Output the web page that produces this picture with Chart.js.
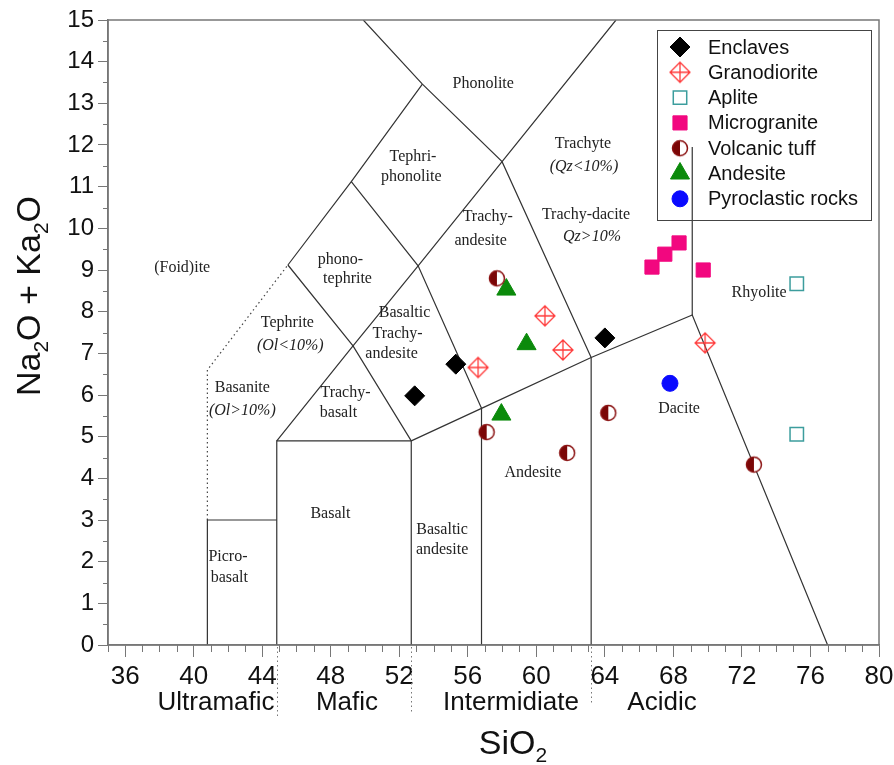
<!DOCTYPE html>
<html>
<head>
<meta charset="utf-8">
<title>TAS diagram</title>
<script src="https://cdn.jsdelivr.net/npm/chart.js@4.4.1/dist/chart.umd.min.js"></script>
<style>
  html, body { margin: 0; padding: 0; background: #fff; }
</style>
</head>
<body>
<canvas id="tasChart" width="894" height="765"></canvas>
<script>
// sample points, [SiO2, Na2O+K2O]
const enclaves = [[52.9, 5.98], [55.3, 6.74], [64.0, 7.37]];
const granodiorite = [[56.6, 6.66], [60.5, 7.9], [61.55, 7.08], [69.85, 7.25]];
const aplite = [[75.2, 8.67], [75.2, 5.06]];
const microgranite = [[66.75, 9.07], [67.5, 9.38], [68.33, 9.65], [69.74, 9.0]];
const volcanicTuff = [[57.7, 8.8], [57.1, 5.11], [61.8, 4.61], [64.2, 5.57], [72.7, 4.33]];
const andesite = [[58.25, 8.53], [59.43, 7.22], [57.96, 5.53]];
const pyroclastic = [[67.8, 6.28]];

const seriesNames = ['Enclaves', 'Granodiorite', 'Aplite', 'Microgranite', 'Volcanic tuff', 'Andesite', 'Pyroclastic rocks'];

// field boundaries of the TAS grid
const fieldLines = [
  [[40.8, 0], [40.8, 3], [44.85, 3]],
  [[44.85, 0], [44.85, 4.9], [52.7, 4.9], [52.7, 0]],
  [[52.7, 4.9], [56.8, 5.68], [63.2, 6.9], [69.1, 7.92], [77, 0]],
  [[56.8, 0], [56.8, 5.68]],
  [[63.2, 0], [63.2, 6.9]],
  [[69.1, 7.92], [69.1, 11.95]],
  [[44.85, 4.9], [49.3, 7.18], [53.1, 9.1], [58.0, 11.6], [64.65, 15]],
  [[45.5, 9.12], [49.2, 11.12], [53.35, 13.46]],
  [[49.9, 15], [53.35, 13.46], [58.0, 11.6], [63.2, 6.9]],
  [[49.2, 11.12], [53.1, 9.1], [56.8, 5.68]],
  [[45.5, 9.12], [49.3, 7.18], [52.7, 4.9]]
];
const dottedLines = [
  [[40.8, 3], [40.8, 6.6], [45.5, 9.12]]
];

const xTicks = [36, 40, 44, 48, 52, 56, 60, 64, 68, 72, 76, 80];

// rock-type names written in the fields
const fieldLabels = [
  ['Phonolite', 56.9, 13.48],
  ['Tephri-', 52.8, 11.71], ['phonolite', 52.7, 11.23],
  ['Trachyte', 62.72, 12.02], ['(Qz<10%)', 62.78, 11.47, true],
  ['Trachy-dacite', 62.9, 10.32], ['Qz>10%', 63.25, 9.79, true],
  ['Trachy-', 57.16, 10.27], ['andesite', 56.75, 9.7],
  ['phono-', 48.57, 9.24], ['tephrite', 48.98, 8.78],
  ['(Foid)ite', 39.33, 9.05],
  ['Tephrite', 45.47, 7.73], ['(Ol<10%)', 45.64, 7.18, true],
  ['Basanite', 42.84, 6.17], ['(Ol>10%)', 42.84, 5.62, true],
  ['Basaltic', 52.31, 7.97], ['Trachy-', 51.9, 7.46], ['andesite', 51.55, 6.98],
  ['Trachy-', 48.86, 6.05], ['basalt', 48.45, 5.57],
  ['Basalt', 47.98, 3.14],
  ['Picro-', 42.0, 2.11], ['basalt', 42.08, 1.61],
  ['Basaltic', 54.5, 2.76], ['andesite', 54.5, 2.28],
  ['Andesite', 59.8, 4.13],
  ['Dacite', 68.33, 5.66],
  ['Rhyolite', 73.0, 8.45]
];

const groups = [
  ['Ultramafic', 216], ['Mafic', 347], ['Intermidiate', 511], ['Acidic', 662]
];

function granoMarker() {
  const c = document.createElement('canvas');
  c.width = 24; c.height = 24;
  const g = c.getContext('2d');
  g.strokeStyle = '#ff3a3a';
  g.lineWidth = 1.3;
  g.beginPath();
  g.moveTo(12, 2); g.lineTo(22, 12); g.lineTo(12, 22); g.lineTo(2, 12); g.closePath();
  g.moveTo(12, 2); g.lineTo(12, 22);
  g.moveTo(2, 12); g.lineTo(22, 12);
  g.stroke();
  return c;
}

function tuffMarker() {
  const c = document.createElement('canvas');
  c.width = 20; c.height = 20;
  const g = c.getContext('2d');
  g.fillStyle = '#fff';
  g.beginPath(); g.arc(10, 10, 7.5, 0, Math.PI * 2); g.fill();
  g.fillStyle = '#7a0606';
  g.beginPath(); g.arc(10, 10, 7.5, Math.PI / 2, Math.PI * 1.5); g.closePath(); g.fill();
  g.strokeStyle = '#8a1010';
  g.lineWidth = 1.5;
  g.beginPath(); g.arc(10, 10, 7.5, 0, Math.PI * 2); g.stroke();
  return c;
}

const toXY = arr => arr.map(p => ({ x: p[0], y: p[1] }));

const styles = [
  { pointStyle: 'rectRot', radius: 10, bg: '#000', border: '#000', bw: 1 },
  { pointStyle: granoMarker(), radius: 10, bg: 'transparent', border: '#ff3a3a', bw: 0 },
  { pointStyle: 'rect', radius: 9.5, bg: 'rgba(255,255,255,0)', border: '#3c9d9d', bw: 1.5 },
  { pointStyle: 'rect', radius: 10, bg: '#f2077f', border: '#f2077f', bw: 1 },
  { pointStyle: tuffMarker(), radius: 8, bg: 'transparent', border: '#8a1010', bw: 0 },
  { pointStyle: 'triangle', radius: 11, bg: '#0b8a0b', border: '#0b8a0b', bw: 1 },
  { pointStyle: 'circle', radius: 8, bg: '#0a0aff', border: '#0a0aff', bw: 1 }
];
const seriesData = [enclaves, granodiorite, aplite, microgranite, volcanicTuff, andesite, pyroclastic];

const datasets = [];
fieldLines.forEach(l => datasets.push({
  data: toXY(l), showLine: true, borderColor: '#333', borderWidth: 1.2,
  pointRadius: 0, fill: false, order: 2
}));
dottedLines.forEach(l => datasets.push({
  data: toXY(l), showLine: true, borderColor: '#444', borderWidth: 1.2, borderDash: [1.5, 3],
  pointRadius: 0, fill: false, order: 2
}));
seriesData.forEach((d, i) => datasets.push({
  label: seriesNames[i], data: toXY(d),
  pointStyle: styles[i].pointStyle, pointRadius: styles[i].radius,
  backgroundColor: styles[i].bg, borderColor: styles[i].border, borderWidth: styles[i].bw,
  order: 0
}));

const decor = {
  id: 'decor',
  afterDraw(chart) {
    const { ctx, chartArea: a, scales: { x, y } } = chart;
    ctx.save();
    // frame top/right
    ctx.strokeStyle = '#777';
    ctx.lineWidth = 1.5;
    ctx.strokeRect(a.left, a.top, a.right - a.left, a.bottom - a.top);
    // minor ticks
    ctx.lineWidth = 1;
    ctx.beginPath();
    for (let v = 35; v <= 80; v++) {
      if (xTicks.includes(v)) continue;
      const px = Math.round(x.getPixelForValue(v)) + 0.5;
      ctx.moveTo(px, a.bottom); ctx.lineTo(px, a.bottom + 7);
    }
    for (let v = 0.5; v < 15; v += 1) {
      const py = Math.round(y.getPixelForValue(v)) + 0.5;
      ctx.moveTo(a.left, py); ctx.lineTo(a.left - 5, py);
    }
    ctx.stroke();

    // field names
    ctx.fillStyle = '#222';
    ctx.textAlign = 'center';
    ctx.textBaseline = 'middle';
    fieldLabels.forEach(([t, vx, vy, it]) => {
      ctx.font = (it ? 'italic ' : '') + '16px "Liberation Serif", "Times New Roman", serif';
      ctx.fillText(t, x.getPixelForValue(vx), y.getPixelForValue(vy));
    });

    // group names and dotted separators below the axis
    ctx.fillStyle = '#111';
    ctx.font = '26px "Liberation Sans", Arial, sans-serif';
    groups.forEach(([t, px]) => ctx.fillText(t, px, 703));
    ctx.strokeStyle = '#777';
    ctx.setLineDash([1.5, 3]);
    ctx.beginPath();
    [[44.85, 716], [52.7, 712], [63.2, 705]].forEach(([v, yb]) => {
      const px = Math.round(x.getPixelForValue(v)) + 0.5;
      ctx.moveTo(px, a.bottom + 2); ctx.lineTo(px, yb);
    });
    ctx.stroke();
    ctx.setLineDash([]);

    // axis titles with subscripts
    const big = '34px "Liberation Sans", Arial, sans-serif';
    const small = '21px "Liberation Sans", Arial, sans-serif';
    function runs(parts) {
      let w = 0;
      parts.forEach(p => { ctx.font = p[1] ? small : big; w += ctx.measureText(p[0]).width; });
      return w;
    }
    function drawRuns(parts, sx, base) {
      ctx.textAlign = 'left';
      ctx.textBaseline = 'alphabetic';
      let cx = sx;
      parts.forEach(p => {
        ctx.font = p[1] ? small : big;
        ctx.fillText(p[0], cx, base + (p[1] ? 8 : 0));
        cx += ctx.measureText(p[0]).width;
      });
    }
    const xt = [['SiO', 0], ['2', 1]];
    drawRuns(xt, 513 - runs(xt) / 2, 754);
    const yt = [['Na', 0], ['2', 1], ['O + Ka', 0], ['2', 1], ['O', 0]];
    ctx.translate(40, 296);
    ctx.rotate(-Math.PI / 2);
    drawRuns(yt, -runs(yt) / 2, 0);
    ctx.setTransform(1, 0, 0, 1, 0, 0);

    // legend
    ctx.strokeStyle = '#444';
    ctx.lineWidth = 1;
    ctx.strokeRect(657.5, 30.5, 214, 190);
    ctx.font = '20px "Liberation Sans", Arial, sans-serif';
    ctx.textAlign = 'left';
    ctx.textBaseline = 'middle';
    seriesNames.forEach((name, i) => {
      const ly = 47 + i * 25.3;
      const st = styles[i];
      ctx.fillStyle = st.bg;
      ctx.strokeStyle = st.border;
      ctx.lineWidth = st.bw;
      Chart.helpers.drawPoint(ctx, { pointStyle: st.pointStyle, radius: st.radius, rotation: 0, borderWidth: st.bw }, 680, ly);
      ctx.fillStyle = '#111';
      ctx.fillText(name, 708, ly + 1);
    });
    ctx.restore();
  }
};

new Chart(document.getElementById('tasChart'), {
  type: 'scatter',
  data: { datasets },
  options: {
    responsive: false,
    animation: false,
    devicePixelRatio: 1,
    layout: { padding: { top: 20, right: 15, left: 0, bottom: 0 } },
    plugins: { legend: { display: false }, tooltip: { enabled: false } },
    scales: {
      x: {
        type: 'linear', min: 35, max: 80,
        afterBuildTicks: s => { s.ticks = xTicks.map(v => ({ value: v })); },
        afterFit: s => { s.height = 120; s.paddingLeft = 0; s.paddingRight = 0; },
        grid: { drawOnChartArea: false, tickLength: 12, color: '#777' },
        border: { color: '#777', width: 1.5 },
        ticks: { color: '#111', padding: 4, maxRotation: 0, font: { family: '"Liberation Sans", Arial, sans-serif', size: 26 } }
      },
      y: {
        min: 0, max: 15,
        afterFit: s => { s.width = 108; },
        grid: { drawOnChartArea: false, tickLength: 10, color: '#777' },
        border: { color: '#777', width: 1.5 },
        ticks: { stepSize: 1, color: '#111', padding: 4, font: { family: '"Liberation Sans", Arial, sans-serif', size: 24 } }
      }
    }
  },
  plugins: [decor]
});
</script>
</body>
</html>
